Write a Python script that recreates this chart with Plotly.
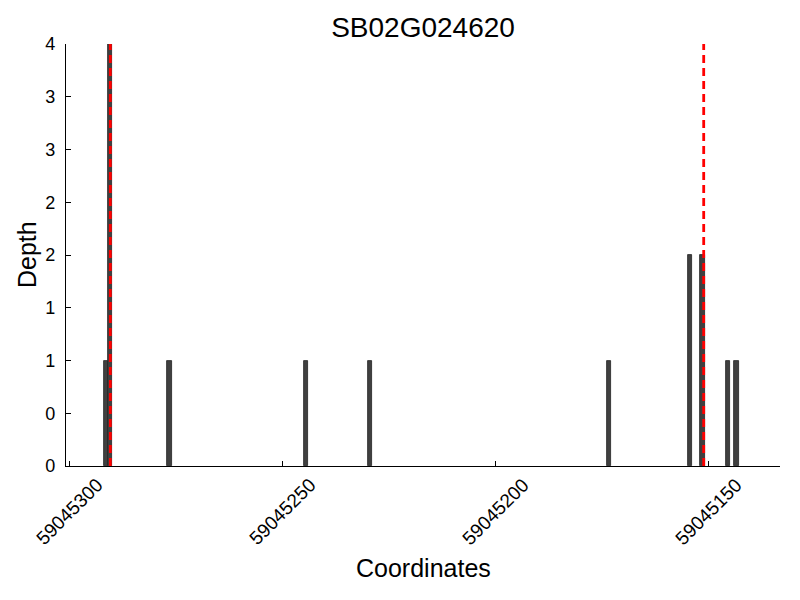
import plotly.graph_objects as go

title = "SB02G024620"
coords = [59045291.5, 59045290.5, 59045276.5, 59045244.5, 59045229.5,
          59045173.5, 59045154.5, 59045151.5, 59045145.5, 59045143.5]
depth = [1, 4, 1, 1, 1, 1, 2, 2, 1, 1]
marker_lines = [59045290.4, 59045151.2]
x_ticks = [59045300, 59045250, 59045200, 59045150]
y_ticks = [0, 0.5, 1, 1.5, 2, 2.5, 3, 3.5, 4]

font_family = "Liberation Sans, Arial, sans-serif"
W, H = 792, 592  # page body has an 8px margin

fig = go.Figure()
fig.add_trace(go.Bar(
    x=coords, y=depth, width=[1] * len(coords),
    marker=dict(color="#404040", line=dict(color="#222222", width=0.8)),
    showlegend=False, hoverinfo="x+y",
))
for v in marker_lines:
    fig.add_trace(go.Scatter(
        x=[v, v], y=[0, max(y_ticks)], mode="lines",
        line=dict(color="#ff0000", width=2.8, dash="8px,5px"),
        showlegend=False, hoverinfo="skip",
    ))

annotations = [
    dict(text="Coordinates", xref="paper", yref="paper", x=0.5, y=-0.2417,
         xanchor="center", yanchor="middle", showarrow=False,
         font=dict(size=25, family=font_family)),
    dict(text="Depth", xref="paper", yref="paper", x=-0.0546, y=0.5,
         xanchor="center", yanchor="middle", showarrow=False, textangle=-90,
         font=dict(size=25, family=font_family)),
]
for t in x_ticks:
    annotations.append(dict(
        text=str(t), xref="x", yref="paper", x=t, y=0,
        xanchor="center", yanchor="top", yshift=-5, xshift=0,
        textangle=-45, showarrow=False,
        font=dict(size=19, family=font_family),
    ))

fig.update_layout(
    width=W, height=H,
    paper_bgcolor="white", plot_bgcolor="white",
    margin=dict(l=58, r=W - 58 - 714, t=36, b=H - 36 - 422, autoexpand=False),
    font=dict(family=font_family, color="black", size=18),
    title=dict(text=title, x=0.5, xanchor="center", xref="paper",
               y=1 - 9 / H, yref="container", yanchor="top",
               font=dict(size=28, family=font_family, color="black")),
    bargap=0,
    annotations=annotations,
)
fig.update_xaxes(
    range=[59045300.8, 59045133.3], automargin=False,
    tickvals=x_ticks, showticklabels=False,
    ticks="inside", ticklen=5, tickcolor="black",
    showline=True, linecolor="black", linewidth=1.2,
    showgrid=False, zeroline=False,
)
fig.update_yaxes(
    range=[0, 4], automargin=False,
    tickvals=y_ticks, ticktext=[str(int(t)) for t in y_ticks],
    ticks="inside", ticklen=5, tickcolor="black", ticklabelstandoff=6,
    showline=True, linecolor="black", linewidth=1.2,
    showgrid=False, zeroline=False, tickfont=dict(size=18),
)

fig.write_html("out.html")
